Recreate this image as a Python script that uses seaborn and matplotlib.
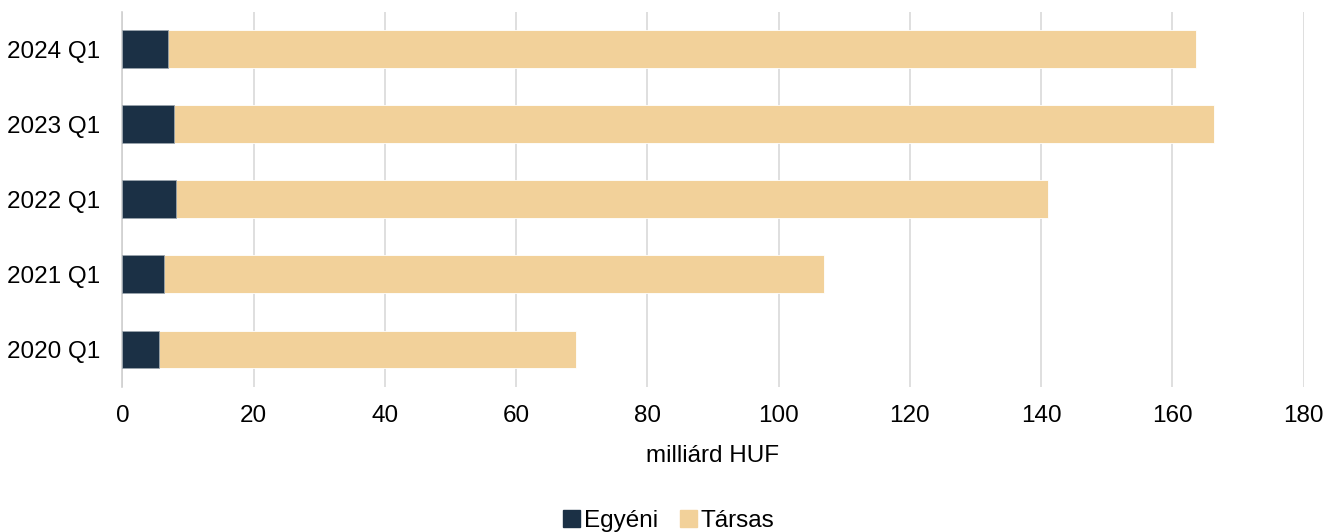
import pandas as pd
import matplotlib.pyplot as plt
import seaborn as sns
from matplotlib.patches import Patch

periods = ["2024 Q1", "2023 Q1", "2022 Q1", "2021 Q1", "2020 Q1"]
egyeni = [6.9, 7.9, 8.2, 6.3, 5.6]
tarsas = [156.7, 158.4, 132.9, 100.6, 63.5]

dark = "#1b3045"
tan = "#f2d19a"

df = pd.DataFrame({"period": periods, "Egyéni": egyeni, "Társas": tarsas})
df["total"] = df["Egyéni"] + df["Társas"]

sns.set_style("white")
plt.rcParams["font.family"] = ["Liberation Sans", "DejaVu Sans"]
plt.rcParams["text.color"] = "black"

fig, ax = plt.subplots(figsize=(13.37, 5.32), dpi=100)
fig.subplots_adjust(left=0.0915, right=0.975, top=0.978, bottom=0.273)

sns.barplot(data=df, y="period", x="total", color=tan, width=0.5,
            edgecolor="white", linewidth=0.6, saturation=1, ax=ax, zorder=3)
sns.barplot(data=df, y="period", x="Egyéni", color=dark, width=0.5,
            edgecolor="#9aa4ad", linewidth=0.6, saturation=1, ax=ax, zorder=4)

ax.set_xlim(0, 180)
ax.set_xticks(range(0, 181, 20))
ax.grid(axis="x", color="#d9d9d9", linewidth=1.2, zorder=0)
ax.set_axisbelow(True)
for s in ["top", "right", "bottom"]:
    ax.spines[s].set_visible(False)
ax.spines["left"].set_color("#d0d0d0")
ax.spines["left"].set_linewidth(1.2)
ax.tick_params(axis="both", length=0, labelsize=17.5, colors="black")
ax.tick_params(axis="x", pad=13)
ax.tick_params(axis="y", pad=16)
ax.set_ylabel("")
ax.set_xlabel("milliárd HUF", fontsize=17.5, labelpad=13, color="black")

handles = [Patch(color=dark, label="Egyéni"), Patch(color=tan, label="Társas")]
fig.legend(handles=handles, loc="lower center", bbox_to_anchor=(0.5, -0.042),
           ncol=2, frameon=False, fontsize=17.5, handlelength=0.7,
           handleheight=0.7, handletextpad=0.15, columnspacing=0.9,
           labelcolor="black")

fig.savefig("out.png", dpi=100)
